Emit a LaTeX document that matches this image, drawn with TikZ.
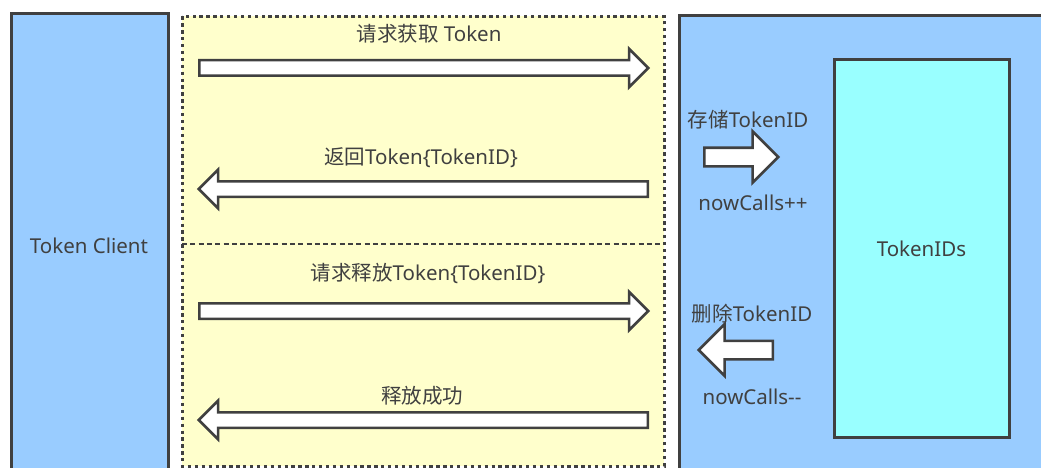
\documentclass[tikz,border=0pt]{standalone}
\usepackage{fontspec}
\setmainfont{Noto Sans}
\newfontfamily\cjk{Noto Sans CJK SC}
\usepackage{tikz}
\usetikzlibrary{shapes.arrows,positioning}
\definecolor{clientblue}{RGB}{153, 204, 255}
\definecolor{calllight}{RGB}{255, 255, 204}
\definecolor{storecyan}{RGB}{153, 255, 255}
\definecolor{edgegray}{RGB}{64, 64, 64}

\tikzset{
  bigarrow/.style={single arrow, draw=edgegray, fill=white, line width=2.5pt,
    inner xsep=0pt, inner ysep=6.5pt, text height=0pt, text depth=0pt,
    single arrow head extend=11.5pt, minimum height=449pt, anchor=tail},
  smallarrow/.style={single arrow, draw=edgegray, fill=white, line width=2.5pt,
    inner xsep=0pt, inner ysep=8pt, text height=0pt, text depth=0pt,
    single arrow head extend=16.5pt, minimum height=74pt, anchor=tail},
  msgtext/.style={text=edgegray, inner sep=0pt}
}

\begin{document}
\begin{tikzpicture}[x=1pt, y=-1pt, font=\fontsize{20.5}{24}\selectfont]
            \useasboundingbox (0,0) rectangle (1041,468);

            % Client side
            \draw[fill=clientblue, draw=edgegray, line width=3pt] (11,14) rectangle (168,490);
            \node[msgtext] (client) at (89,246) {Token Client};

            % Message area
            \draw[fill=calllight, draw=edgegray, line width=3pt, dash pattern=on 3.3pt off 3.6pt] (182,16.5) rectangle (664,466);
            \draw[draw=edgegray, line width=2.5pt, dash pattern=on 5pt off 3.3pt] (182,244) -- (664,244);

            % Server side
            \draw[fill=clientblue, draw=edgegray, line width=3pt] (679,16) rectangle (1060,490);
            \node[draw=edgegray, fill=storecyan, line width=3pt, text=edgegray,
                  minimum width=175pt, minimum height=377pt] (tokenids) at (921.5,248.5) {TokenIDs};

            % Requests and replies
            \node[bigarrow] (getarrow) at (198,68) {};
            \node[msgtext] (getlbl) at (429,34) {{\cjk 请求获取} Token};

            \node[bigarrow, shape border rotate=180] (backarrow) at (649,189) {};
            \node[msgtext] (backlbl) at (421,158) {{\cjk 返回}Token\{TokenID\}};

            \node[bigarrow] (freearrow) at (198,311) {};
            \node[msgtext] (freelbl) at (428,273) {{\cjk 请求释放}Token\{TokenID\}};

            \node[bigarrow, shape border rotate=180] (okarrow) at (649,420) {};
            \node[msgtext] (oklbl) at (422,396) {\cjk 释放成功};

            % Store and delete
            \node[smallarrow] (savearrow) at (703,157) {};
            \node[msgtext] (savelbl) at (748,120) {{\cjk 存储}TokenID};
            \node[msgtext] (inclbl) at (753,203) {nowCalls++};

            \node[smallarrow, shape border rotate=180] (delarrow) at (774,350) {};
            \node[msgtext] (dellbl) at (752,314) {{\cjk 删除}TokenID};
            \node[msgtext] (declbl) at (752,397) {nowCalls-{}-};
        \end{tikzpicture}
\end{document}
